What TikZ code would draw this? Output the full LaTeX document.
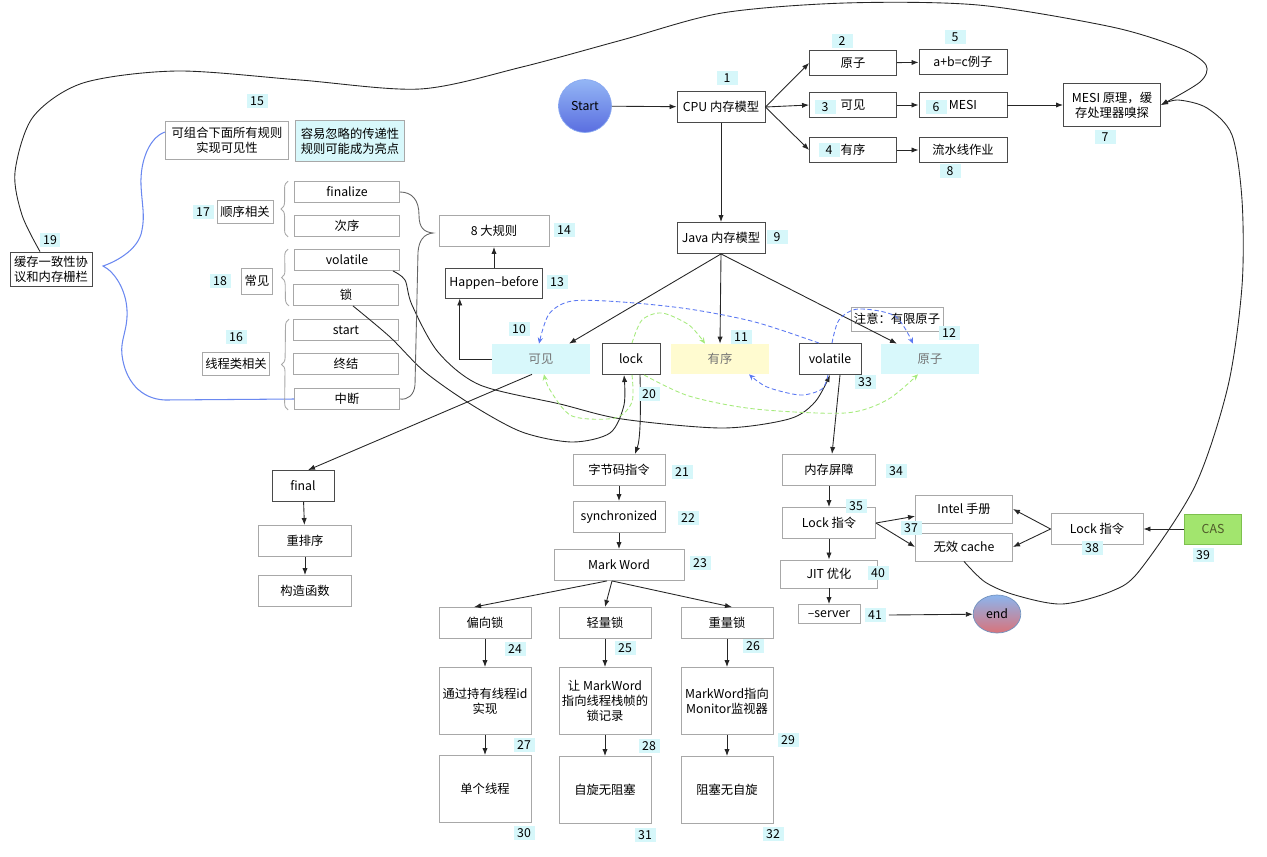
\documentclass[tikz,border=0pt]{standalone}
\usepackage{fontspec}
\setmainfont{Noto Sans CJK SC}
\usetikzlibrary{arrows.meta,shapes.geometric,decorations.pathreplacing,calc}

\definecolor{dline}{HTML}{4A4A4A}
\definecolor{lline}{HTML}{A8A8A8}
\definecolor{numbg}{HTML}{D6F7FA}
\definecolor{cyanbg}{HTML}{D8F8FB}
\definecolor{yellowbg}{HTML}{FFFBD0}
\definecolor{bluedash}{HTML}{5B78F2}
\definecolor{greendash}{HTML}{A6EA7C}
\definecolor{bracecol}{HTML}{6A88F0}
\definecolor{casfill}{HTML}{A2E56E}
\definecolor{casline}{HTML}{7DC04E}
\definecolor{castext}{HTML}{4F5A2A}
\definecolor{sttop}{HTML}{94B6F5}
\definecolor{stbot}{HTML}{5A6EE0}
\definecolor{endtop}{HTML}{8CB5EE}
\definecolor{endbot}{HTML}{D9737A}

\tikzset{
  dbox/.style={draw=dline, line width=0.5pt, fill=white, inner sep=1pt, align=center,
    minimum width=1.84cm, minimum height=0.62cm},
  lbox/.style={dbox, draw=lline},
  cbox/.style={fill=cyanbg, inner sep=1pt, minimum width=1.96cm, minimum height=0.6cm, text=black!55},
  num/.style={fill=numbg, inner sep=0pt, minimum width=0.42cm, minimum height=0.27cm},
  arr/.style={-{Latex[length=4pt,width=3pt]}, line width=0.5pt, draw=black!85},
  bdash/.style={draw=bluedash, dash pattern=on 2.5pt off 1.5pt, line width=0.5pt,
    -{Stealth[length=3.5pt,width=3pt]}},
  gdash/.style={bdash, draw=greendash},
  sbrace/.style={decorate, decoration={brace, amplitude=4pt}, draw=lline, line width=0.5pt}
}

\begin{document}
\begin{tikzpicture}[x=0.02cm, y=-0.02cm, font=\fontsize{7pt}{8.5pt}\selectfont]
    \useasboundingbox (0,0) rectangle (1267,856);

    % CPU memory model
    \node[circle, minimum size=1.06cm, top color=sttop, bottom color=stbot, draw=sttop!80!stbot] (start) at (585,106) {Start};
    \node[dbox, minimum width=1.76cm] (cpu) at (721,107) {CPU 内存模型};
    \node[dbox, minimum width=1.74cm, minimum height=0.5cm] (yz) at (853,63) {原子};
    \node[dbox, minimum width=1.74cm, minimum height=0.5cm] (kj) at (853,105) {可见};
    \node[dbox, minimum width=1.74cm, minimum height=0.5cm] (yx) at (853,150) {有序};
    \node[dbox, minimum width=1.76cm, minimum height=0.5cm] (abc) at (963,62) {a+b=c例子};
    \node[dbox, minimum width=1.76cm, minimum height=0.5cm] (mesi) at (963,105) {MESI};
    \node[dbox, minimum width=1.76cm, minimum height=0.5cm] (lsx) at (963,150) {流水线作业};
    \node[dbox, minimum width=1.94cm, minimum height=0.86cm] (mesiyl) at (1112,105) {MESI 原理，缓\\存处理器嗅探};
    \node[dbox, minimum width=1.76cm] (java) at (721,238) {Java 内存模型};

    % happen-before rules
    \node[dbox, minimum width=1.64cm, minimum height=0.68cm] (hc) at (51,269) {缓存一致性协\\议和内存栅栏};
    \node[lbox, minimum width=2.46cm, minimum height=0.76cm] (zh) at (227,140) {可组合下面所有规则\\实现可见性};
    \node[lbox, fill=cyanbg, minimum width=2.18cm, minimum height=0.82cm] (cd) at (350,141) {容易忽略的传递性\\规则可能成为亮点};
    \node[lbox, minimum width=1.12cm, minimum height=0.46cm] (sx) at (245,212) {顺序相关};
    \node[lbox, minimum width=0.62cm, minimum height=0.52cm] (cj) at (257,281) {常见};
    \node[lbox, minimum width=1.34cm, minimum height=0.46cm] (xc) at (236,364) {线程类相关};
    \node[lbox, minimum width=2.1cm, minimum height=0.42cm] (fin) at (347,192) {finalize};
    \node[lbox, minimum width=2.1cm, minimum height=0.42cm] (cx) at (347,226) {次序};
    \node[lbox, minimum width=2.1cm, minimum height=0.42cm] (vl) at (347,260) {volatile};
    \node[lbox, minimum width=2.1cm, minimum height=0.42cm] (suo) at (346,295) {锁};
    \node[lbox, minimum width=2.1cm, minimum height=0.42cm] (st) at (346,330) {start};
    \node[lbox, minimum width=2.1cm, minimum height=0.42cm] (zj) at (346,364) {终结};
    \node[lbox, minimum width=2.1cm, minimum height=0.42cm] (zd) at (347,399) {中断};
    \node[lbox, minimum width=2.2cm] (dgz) at (494,231) {8 大规则};
    \node[dbox, minimum width=1.94cm, minimum height=0.6cm] (hb) at (494,283) {Happen--before};

    % java memory model
    \node[cbox] (kj2) at (541,359) {可见};
    \node[dbox, minimum width=1.16cm] (lock) at (631,359) {lock};
    \node[cbox, fill=yellowbg] (yx2) at (720,359) {有序};
    \node[dbox, minimum width=1.24cm] (vol) at (830,359) {volatile};
    \node[cbox] (yz2) at (930,359) {原子};
    \node[lbox, minimum width=1.84cm, minimum height=0.48cm] (zy) at (897,319) {注意：有限原子};

    \node[dbox, minimum width=1.24cm] (fnl) at (303,486) {final};
    \node[lbox, minimum width=1.86cm] (cpx) at (305,541) {重排序};
    \node[lbox, minimum width=1.86cm] (gz) at (305,591) {构造函数};

    \node[lbox] (zjm) at (619,470) {字节码指令};
    \node[lbox] (syn) at (619,517) {synchronized};
    \node[lbox, minimum width=2.6cm] (mw) at (619,565) {Mark Word};
    \node[lbox] (pxs) at (485,623) {偏向锁};
    \node[lbox] (qls) at (605,623) {轻量锁};
    \node[lbox] (zls) at (727,623) {重量锁};
    \node[lbox, minimum height=1.34cm] (tg) at (485,701) {通过持有线程id\\实现};
    \node[lbox, minimum height=1.34cm] (rm) at (605,701) {让 MarkWord\\指向线程栈帧的\\锁记录};
    \node[lbox, minimum height=1.34cm] (mwm) at (727,701) {MarkWord指向\\Monitor监视器};
    \node[lbox, minimum height=1.34cm] (dg) at (485,789) {单个线程};
    \node[lbox, minimum height=1.34cm] (zx) at (605,790) {自旋无阻塞};
    \node[lbox, minimum height=1.34cm] (zs) at (727,790) {阻塞无自旋};

    \node[lbox, minimum width=1.86cm] (ncpz) at (829,470) {内存屏障};
    \node[lbox, minimum width=1.86cm] (lk) at (829,523) {Lock 指令};
    \node[lbox, minimum width=1.94cm, minimum height=0.56cm] (jit) at (829,574) {JIT 优化};
    \node[lbox, minimum width=1.24cm, minimum height=0.38cm] (srv) at (829,614) {--server};
    \node[ellipse, minimum width=0.88cm, minimum height=0.76cm, top color=endtop, bottom color=endbot, draw=endtop!80!black] (end) at (997,614) {end};
    \node[lbox, minimum width=1.94cm, minimum height=0.56cm] (intel) at (964,509) {Intel 手册};
    \node[lbox, minimum width=1.94cm, minimum height=0.56cm] (wx) at (964,547) {无效 cache};
    \node[lbox] (lk2) at (1097,529) {Lock 指令};
    \node[draw=casline, fill=casfill, minimum width=1.14cm, minimum height=0.6cm, text=castext] (cas) at (1213,529) {CAS};

    % connectors
    \draw[arr] (start) -- (cpu);
    \draw[arr] (cpu.east) -- (yz.west);
    \draw[arr] (cpu.east) -- (kj.west);
    \draw[arr] (cpu.east) -- (yx.west);
    \draw[arr] (yz) -- (abc);
    \draw[arr] (kj) -- (mesi);
    \draw[arr] (yx) -- (lsx);
    \draw[arr] (mesi) -- (mesiyl);
    \draw[arr] (cpu) -- (java);
    \draw[arr] (java.south) -- ([xshift=0.56cm]kj2.north);
    \draw[arr] (java.south) -- (yx2.north);
    \draw[arr] (java.south) -- ([xshift=-0.66cm]yz2.north);
    \draw[arr] (kj2.west) -| ($(hb.south west)!0.15!(hb.south east)$);
    \draw[arr] (hb) -- (dgz);
    \draw[arr] ([xshift=-0.18cm]kj2.south) -- ([xshift=0.1cm]fnl.north);
    \draw[arr] (fnl) -- (cpx);
    \draw[arr] (cpx) -- (gz);
    \draw[arr] ([xshift=0.18cm]lock.south) .. controls (641,420) and (640,440) .. ([xshift=0.32cm]zjm.north);
    \draw[arr] (zjm) -- (syn);
    \draw[arr] (syn) -- (mw);
    \draw[arr] ([xshift=-0.24cm]mw.south) -- ([xshift=-0.22cm]pxs.north);
    \draw[arr] ([xshift=-0.14cm]mw.south) -- (qls.north);
    \draw[arr] ([xshift=-0.14cm]mw.south) -- ([xshift=0.1cm]zls.north);
    \draw[arr] (pxs) -- (tg);
    \draw[arr] (tg) -- (dg);
    \draw[arr] (qls) -- (rm);
    \draw[arr] (rm) -- (zx);
    \draw[arr] (zls) -- (mwm);
    \draw[arr] (mwm) -- (zs);
    \draw[arr] ([xshift=0.2cm]vol.south) -- ([xshift=0.06cm]ncpz.north);
    \draw[arr] (ncpz) -- (lk);
    \draw[arr] (lk) -- (jit);
    \draw[arr] (jit) -- (srv);
    \draw[arr] (lk.east) -- ($(intel.west)!0.5!(intel.south west)$);
    \draw[arr] (lk.east) -- (wx.west);
    \draw[arr] (lk2.west) -- (intel.east);
    \draw[arr] (lk2.west) -- (wx.east);
    \draw[arr] (cas) -- (lk2);

    % long curves
    \coordinate (hctop) at ([xshift=-0.22cm]hc.north);
    \draw[arr] plot[smooth] coordinates {(hctop) (22,215) (15,172) (33,117) (83,83) (177,71) (300,80) (420,89) (522,67) (622,40) (722,13) (845,3) (978,5) (1112,27) (1180,48) (1206,65) (1200,82) (mesiyl.east)};
    \draw[arr] plot[smooth] coordinates {(wx.south) (985,582) (1015,595) (1062,604) (1112,591) (1140,570) (1195,486) (1228,386) (1242,286) (1242,200) (1232,135) (1207,108) (1178,100) (mesiyl.east)};
    \coordinate (vla) at ([xshift=-0.14cm]vl.south east);
    \coordinate (volb) at (vol.south);
    \draw[arr] plot[smooth] coordinates {(vla) (405,280) (412,305) (438,352) (480,385) (560,404) (622,419) (722,428) (789,419) (815,402) (volb)};
    \coordinate (suoa) at ([xshift=0.14cm]suo.south);
    \coordinate (lockb) at ([xshift=-0.14cm]lock.south);
    \draw[arr] plot[smooth] coordinates {(suoa) (390,337) (425,372) (472,405) (522,432) (572,442) (610,433) (624,405) (lockb)};

    % braces
    \draw[bracecol, line width=0.6pt] ([yshift=0.16cm]zh.west) .. controls (150,137) and (140,160) .. (141,185)
      .. controls (142,205) and (145,215) .. (142,230) .. controls (139,250) and (115,262) .. (103,266)
      .. controls (115,272) and (126,290) .. (127,310) .. controls (128,330) and (120,340) .. (122,355)
      .. controls (125,380) and (140,399) .. (165,400) -- (zd.west);
    \draw[dline!85, line width=0.5pt] (fin.east) .. controls (412,192) and (419,200) .. (419,215)
      .. controls (419,228) and (424,232) .. (433,233) .. controls (424,234) and (419,240) .. (418,252)
      -- (415,385) .. controls (414,395) and (408,400) .. (zd.east);
    \draw[sbrace] ([xshift=-0.12cm]cx.south west) -- ([xshift=-0.12cm]fin.north west);
    \draw[sbrace] ([xshift=-0.08cm]suo.south west) -- ([xshift=-0.12cm]vl.north west);
    \draw[sbrace] ([xshift=-0.12cm]zd.south west) -- ([xshift=-0.08cm]st.north west);

    % dashed relations
    \coordinate (b1a) at ([xshift=-0.22cm]vol.north);
    \coordinate (b1b) at ([xshift=-0.04cm]kj2.north);
    \draw[bdash] plot[smooth] coordinates {(b1a) (755,322) (689,309) (622,302) (572,301) (549,314) (b1b)};
    \coordinate (b2a) at ([xshift=0.04cm]vol.north);
    \coordinate (b2b) at ([xshift=-0.34cm]yz2.north);
    \draw[bdash] plot[smooth] coordinates {(b2a) (839,320) (858,309) (895,316) (b2b)};
    \coordinate (b3a) at ([xshift=-0.04cm]vol.south);
    \coordinate (b3b) at ([xshift=0.58cm]yx2.south);
    \draw[bdash] plot[smooth] coordinates {(b3a) (822,389) (800,395) (767,387) (b3b)};
    \coordinate (g1a) at ([xshift=0.02cm]lock.north);
    \coordinate (g1b) at ([xshift=-0.3cm]yx2.north);
    \draw[gdash] plot[smooth] coordinates {(g1a) (642,320) (662,313) (689,325) (g1b)};
    \coordinate (g2a) at ([xshift=0.02cm]lock.south);
    \coordinate (g2b) at ([xshift=0.06cm]kj2.south);
    \draw[gdash] plot[smooth] coordinates {(g2a) (632,402) (615,418) (572,416) (550,390) (g2b)};
    \coordinate (g3a) at ([xshift=0.26cm]lock.south);
    \coordinate (g3b) at ([xshift=-0.24cm]yz2.south);
    \draw[gdash] plot[smooth] coordinates {(g3a) (689,396) (755,409) (845,413) (887,400) (g3b)};

    % step numbers
    \foreach \n/\px/\py in {1/727/78, 2/842/41, 3/825/107, 4/829/150, 5/955/37, 6/936/107, 7/1105/137,
        8/950/171, 9/777/237, 10/519/329, 11/741/337, 12/949/333, 13/557/282, 14/564/230,
        15/257/101, 16/236/337, 17/203/212, 18/220/281, 19/50/240, 20/649/394, 21/682/472,
        22/688/518, 23/700/563, 24/515/649, 25/625/648, 26/753/646, 27/524/745, 28/649/746,
        29/788/740, 30/524/833, 31/645/835, 32/773/834, 33/865/382, 34/896/471, 35/856/506,
        37/911/528, 38/1092/548, 39/1203/555, 40/878/573, 41/875/615} {
        \node[num] (n\n) at (\px,\py) {\n};
    }
    \draw[arr] ([xshift=0.06cm]n41.east) -- (end);
\end{tikzpicture}
\end{document}
